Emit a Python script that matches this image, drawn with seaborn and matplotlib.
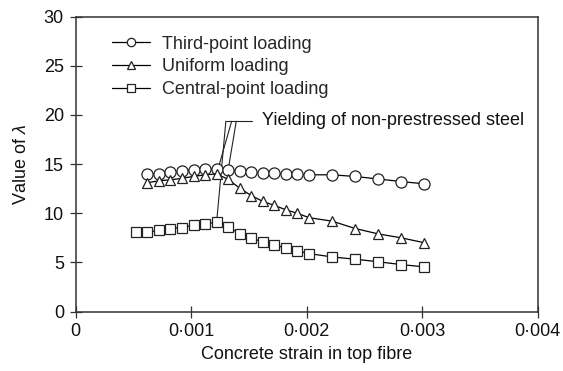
import matplotlib
matplotlib.use("Agg")
import matplotlib.pyplot as plt
import seaborn as sns
import pandas as pd

# ---- data ----
third_strain = [0.00062, 0.00072, 0.00082, 0.00092, 0.00102, 0.00112, 0.00122, 0.00132,
                0.00142, 0.00152, 0.00162, 0.00172, 0.00182, 0.00192, 0.00202,
                0.00222, 0.00242, 0.00262, 0.00282, 0.00302]
third_lambda = [13.98, 13.98, 14.15, 14.29, 14.39, 14.49, 14.49, 14.42,
                14.25, 14.15, 14.05, 14.05, 14.01, 13.95, 13.91,
                13.91, 13.74, 13.48, 13.22, 12.99]

uniform_strain = [0.00062, 0.00072, 0.00082, 0.00092, 0.00102, 0.00112, 0.00122, 0.00132,
                  0.00142, 0.00152, 0.00162, 0.00172, 0.00182, 0.00192, 0.00202,
                  0.00222, 0.00242, 0.00262, 0.00282, 0.00302]
uniform_lambda = [13.1, 13.3, 13.4, 13.55, 13.75, 13.9, 14.0, 13.45,
                  12.55, 11.8, 11.2, 10.8, 10.35, 10.0, 9.55,
                  9.2, 8.45, 7.9, 7.5, 7.0]

central_strain = [0.00052, 0.00062, 0.00072, 0.00082, 0.00092, 0.00102, 0.00112, 0.00122,
                  0.00132, 0.00142, 0.00152, 0.00162, 0.00172, 0.00182, 0.00192, 0.00202,
                  0.00222, 0.00242, 0.00262, 0.00282, 0.00302]
central_lambda = [8.08, 8.08, 8.25, 8.45, 8.55, 8.79, 8.92, 9.09,
                  8.6, 7.94, 7.47, 7.09, 6.79, 6.45, 6.18, 5.90,
                  5.56, 5.33, 5.07, 4.78, 4.55]

series_names = ["Third-point loading", "Uniform loading", "Central-point loading"]
series_markers = ["o", "^", "s"]

x_ticks = [0, 0.001, 0.002, 0.003, 0.004]
x_ticklabels = ["0", "0\u00b7001", "0\u00b7002", "0\u00b7003", "0\u00b7004"]
y_ticks = [0, 5, 10, 15, 20, 25, 30]

# annotation (yield of non-prestressed steel)
yield_strain = [0.00122, 0.00122, 0.00132]
yield_lambda = [9.09, 14.0, 14.42]
knee_strain = [0.00130, 0.00135, 0.00139]
knee_lambda = 19.35
bar_end = 0.00153
note_x, note_y = 0.00161, 19.45
note_text = "Yielding of non-prestressed steel"

# ---- plotting ----
sns.set_theme(style="white")
plt.rcParams["font.family"] = ["Liberation Sans", "DejaVu Sans"]
plt.rcParams["mathtext.fontset"] = "custom"
plt.rcParams["mathtext.it"] = "Liberation Sans:italic"
plt.rcParams["mathtext.rm"] = "Liberation Sans"

fs = 13
fig = plt.figure(figsize=(5.63, 3.71), dpi=100)
ax = fig.add_axes([0.1345, 0.16, 0.8205, 0.7955])

frames = []
for name, xs, ys in zip(series_names,
                        [third_strain, uniform_strain, central_strain],
                        [third_lambda, uniform_lambda, central_lambda]):
    frames.append(pd.DataFrame({"strain": xs, "lam": ys, "series": name}))
df = pd.concat(frames, ignore_index=True)

msizes = {"o": 8, "^": 7.5, "s": 7}
for name, mk in zip(series_names, series_markers):
    sub = df[df["series"] == name]
    sns.lineplot(data=sub, x="strain", y="lam", ax=ax, sort=False,
                 color="black", linewidth=0.9, marker=mk, markersize=msizes[mk],
                 markerfacecolor="white", markeredgecolor="#222222",
                 markeredgewidth=0.9, label=name, zorder=3)

# leader lines
for xs, ys, kx in zip(yield_strain, yield_lambda, knee_strain):
    ax.plot([xs, kx], [ys, knee_lambda], color="#222222", lw=0.8, zorder=2)
ax.plot([knee_strain[0], bar_end], [knee_lambda, knee_lambda], color="#222222", lw=0.8, zorder=2)
ax.text(note_x, note_y, note_text, fontsize=fs, va="center", ha="left", color="#111111")

ax.set_xlim(0, 0.004)
ax.set_ylim(0, 30)
ax.set_xticks(x_ticks)
ax.set_xticklabels(x_ticklabels)
ax.set_yticks(y_ticks)
ax.tick_params(axis="both", direction="inout", length=9, width=0.9, color="#333333",
               labelsize=fs, labelcolor="#111111", bottom=True, left=True, top=False, right=False, pad=4)
ax.set_xlabel("Concrete strain in top fibre", fontsize=fs, color="#111111", labelpad=4)
ax.set_ylabel("Value of $\\lambda$", fontsize=fs, color="#111111", labelpad=10)

for sp in ax.spines.values():
    sp.set_visible(True)
    sp.set_color("#333333")
    sp.set_linewidth(1.1)

leg = ax.legend(loc="upper left", bbox_to_anchor=(0.078, 0.935), frameon=False,
                fontsize=fs, handlelength=2.1, handletextpad=0.7, labelspacing=0.31,
                borderpad=0, borderaxespad=0, markerscale=0.75)

fig.savefig("out.png", dpi=100)
